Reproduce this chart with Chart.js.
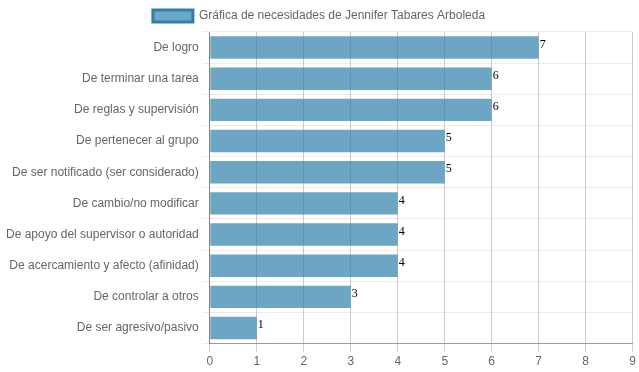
<!DOCTYPE html>
<html><head><meta charset="utf-8">
<script src="https://cdn.jsdelivr.net/npm/chart.js@4/dist/chart.umd.min.js"></script>
<style>html,body{margin:0;padding:0;background:#fff}#wrap{width:639px;height:372px}</style>
</head><body><div id="wrap"><canvas id="c"></canvas></div>
<script>
const categories = ["De logro","De terminar una tarea","De reglas y supervisión","De pertenecer al grupo","De ser notificado (ser considerado)","De cambio/no modificar","De apoyo del supervisor o autoridad","De acercamiento y afecto (afinidad)","De controlar a otros","De ser agresivo/pasivo"];
const values = [7,6,6,5,5,4,4,4,3,1];
const seriesName = "Gráfica de necesidades de Jennifer Tabares Arboleda";
const xTicks = [0,1,2,3,4,5,6,7,8,9];

Chart.defaults.font.family = '"Liberation Sans", Arial, Helvetica, sans-serif';
Chart.defaults.font.size = 12;
Chart.defaults.color = '#666';

const valueLabels = {
  id: 'valueLabels',
  afterDatasetsDraw(chart) {
    const ctx = chart.ctx;
    const meta = chart.getDatasetMeta(0);
    ctx.save();
    ctx.font = '12px "Liberation Serif", "Times New Roman", serif';
    ctx.fillStyle = '#000';
    ctx.textAlign = 'left';
    ctx.textBaseline = 'middle';
    meta.data.forEach((bar, i) => {
      ctx.fillText(String(values[i]), bar.x + 1, bar.y - 3);
    });
    ctx.restore();
  }
};

new Chart(document.getElementById('c'), {
  type: 'bar',
  data: {
    labels: categories,
    datasets: [{
      label: seriesName,
      data: values,
      backgroundColor: 'rgba(45,128,171,0.7)',
      borderColor: 'rgba(45,128,171,1)',
      borderWidth: 0,
      categoryPercentage: 0.8,
      barPercentage: 0.9
    }]
  },
  options: {
    indexAxis: 'y',
    responsive: true,
    maintainAspectRatio: false,
    animation: false,
    layout: { padding: { right: 4, left: 3, top: 0, bottom: 0 } },
    plugins: {
      legend: {
        labels: {
          boxWidth: 40,
          boxHeight: 12,
          generateLabels(chart) {
            return [{
              text: seriesName,
              fillStyle: 'rgba(45,128,171,0.7)',
              strokeStyle: 'rgba(45,128,171,1)',
              lineWidth: 3,
              datasetIndex: 0,
              hidden: false,
              fontColor: '#666'
            }];
          }
        }
      },
      tooltip: { enabled: false }
    },
    scales: {
      x: {
        min: 0, max: 9,
        ticks: { stepSize: 1, color: '#666', callback: (v) => xTicks.includes(v) ? String(v) : '' },
        grid: { color: 'rgba(0,0,0,0.2)', tickLength: 8 },
        border: { color: 'rgba(0,0,0,0.35)' }
      },
      y: {
        ticks: { color: '#666' },
        grid: { color: 'rgba(0,0,0,0.07)', offset: true, tickLength: 8 },
        border: { color: 'rgba(0,0,0,0.35)' }
      }
    }
  },
  plugins: [valueLabels]
});
</script></body></html>
